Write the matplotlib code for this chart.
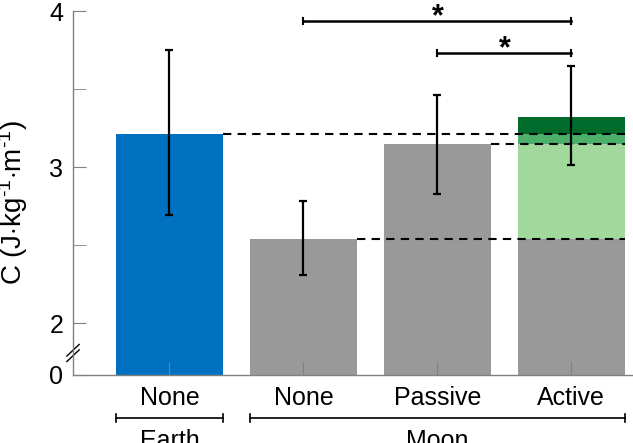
import matplotlib
matplotlib.use('Agg')
import matplotlib.pyplot as plt
import matplotlib.transforms as mtransforms

plt.rcParams['font.family'] = ['Liberation Sans', 'DejaVu Sans']
plt.rcParams['mathtext.fontset'] = 'custom'
plt.rcParams['mathtext.rm'] = 'Liberation Sans'
plt.rcParams['mathtext.it'] = 'Liberation Sans'

# data
conditions = ['None', 'None', 'Passive', 'Active']
groups = ['Earth', 'Moon']
group_members = [[0], [1, 2, 3]]
means = [3.21, 2.54, 3.15, 3.32]
err_high = [3.75, 2.78, 3.46, 3.65]
err_low = [2.69, 2.31, 2.83, 3.01]
bar_colors = ['#0070c0', '#999999', '#999999', '#999999']
# the Active bar is split into its contributions
active_levels = [2.54, 3.15, 3.21, 3.32]
active_colors = ['#999999', '#a0d99b', '#4caf6a', '#006b2b']
# significance brackets (bar index pairs)
sig_pairs = [(1, 3), (2, 3)]
sig_y = [3.936, 3.731]

ybot = 1.667  # axis break: "0" sits here
x = [1, 2, 3, 4]
w = 0.8

fig = plt.figure(figsize=(6.33, 4.43), dpi=100)
ax = fig.add_axes([73/633, 68/443, 560/633, 364/443])

# bars
for i in range(len(x)):
    if i == 3:
        lo = ybot
        for lev, c in zip(active_levels, active_colors):
            ax.bar(x[i], lev - lo, bottom=lo, width=w, color=c, linewidth=0, zorder=1)
            lo = lev
    else:
        ax.bar(x[i], means[i] - ybot, bottom=ybot, width=w, color=bar_colors[i],
               linewidth=0, zorder=1)

# dashed reference lines to the Active bar
for i in range(3):
    ax.plot([x[i] + w/2, x[3] + w/2], [means[i], means[i]], color='black',
            ls=(0, (4, 3)), lw=1.5, zorder=2)

# error bars
yerr = [[m - l for m, l in zip(means, err_low)], [h - m for m, h in zip(means, err_high)]]
ax.errorbar(x, means, yerr=yerr, fmt='none', ecolor='black', elinewidth=1.6,
            capsize=2.8, capthick=1.6, zorder=3)

# significance brackets
for (a, b), yy in zip(sig_pairs, sig_y):
    ax.plot([x[a], x[b]], [yy, yy], color='black', lw=1.8, clip_on=False)
    for xx in (x[a], x[b]):
        ax.plot([xx, xx], [yy - 0.02, yy + 0.02], color='black', lw=1.5, clip_on=False)
    ax.text((x[a] + x[b]) / 2, yy - 0.07, '*', ha='center', va='bottom',
            fontsize=22, fontweight='bold', clip_on=False)

ax.set_xlim(0.28, 4.46)
ax.set_ylim(ybot, 4.0)

ax.set_yticks([ybot, 2, 3, 4])
ax.set_yticklabels(['0', '2', '3', '4'])
ax.set_yticks([2.5, 3.5], minor=True)
ax.set_xticks(x)
ax.set_xticklabels(conditions)

for s in ['top', 'right']:
    ax.spines[s].set_visible(False)
for s in ['left', 'bottom']:
    ax.spines[s].set_color('#808080')
    ax.spines[s].set_linewidth(1.0)

ax.tick_params(axis='y', which='both', direction='in', length=9.5, color='#808080',
               labelsize=18, pad=7)
ax.tick_params(axis='x', direction='in', length=9.5, color='#808080', labelsize=18, pad=8)

ax.set_ylabel(r'C (J$\cdot$kg$^{\text{-}1}$$\cdot$m$^{\text{-}1}$)', fontsize=20)
ax.yaxis.set_label_coords(-0.077, 0.475)

# axis break mark
for dy in (0.053, 0.068):
    ax.plot([-0.011, 0.011], [dy - 0.016, dy + 0.016], transform=ax.transAxes,
            color='black', lw=1.0, clip_on=False)

# group brackets under the tick labels
trans = mtransforms.blended_transform_factory(ax.transData, ax.transAxes)
for name, members in zip(groups, group_members):
    x0 = x[members[0]] - w/2
    x1 = x[members[-1]] + w/2
    ax.plot([x0, x1], [-0.118, -0.118], color='black', lw=1.2, transform=trans, clip_on=False)
    for xx in (x0, x1):
        ax.plot([xx, xx], [-0.128, -0.108], color='black', lw=1.2, transform=trans,
                clip_on=False)
    ax.text((x0 + x1) / 2, -0.18, name, ha='center', va='center', fontsize=18,
            transform=trans)

fig.savefig('out.png', dpi=100)
